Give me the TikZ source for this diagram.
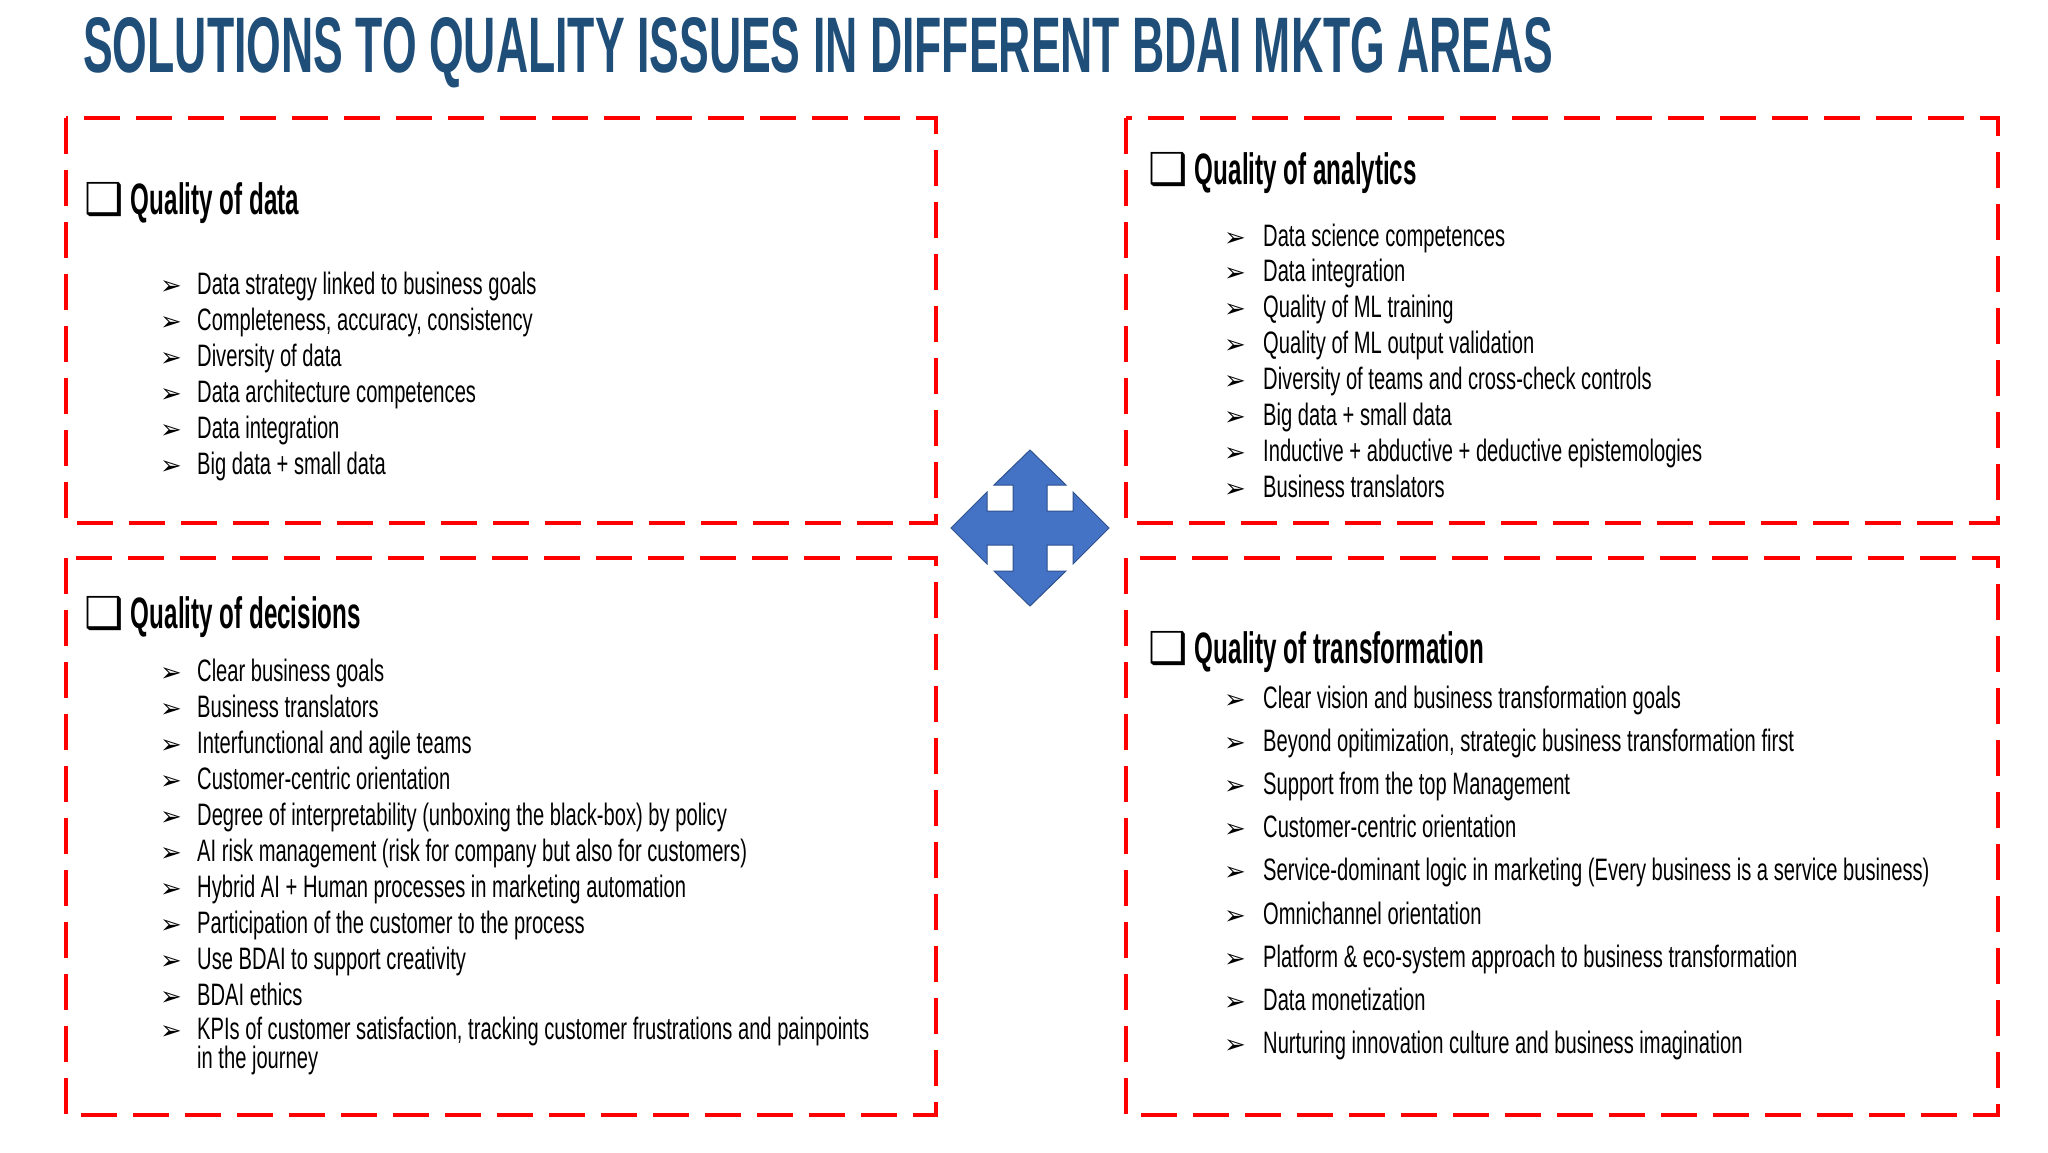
\documentclass[tikz,border=0pt]{standalone}
\usepackage{fontspec}
\setmainfont{Liberation Sans}
\newfontfamily\dv{DejaVu Sans}
\definecolor{ttl}{HTML}{1F4E79}
\definecolor{boxred}{HTML}{FF0000}
\definecolor{arrowfill}{HTML}{4472C4}
\definecolor{arrowline}{HTML}{2F528F}
\newcommand{\itm}[1]{\scalebox{0.65}[1]{#1}}
\newcommand{\hdr}[1]{{\dv\bfseries ❑}\,\scalebox{0.55}[1]{\bfseries #1}}
\begin{document}
\begin{tikzpicture}[x=1pt,y=-1pt,
  redbox/.style={draw=boxred,line width=4.5pt,dash pattern=on 36pt off 16pt},
  head/.style={anchor=base west,inner sep=0pt,font=\fontsize{44}{48}\selectfont},
  item/.style={anchor=base west,inner sep=0pt,font=\fontsize{31}{26}\selectfont,align=left},
  bul/.style={anchor=base west,inner sep=0pt,font=\dv\fontsize{26}{28}\selectfont}]
\useasboundingbox (0,0) rectangle (2048,1152);
\node[anchor=west,inner sep=0pt] (title) at (83,53) {\resizebox{1470pt}{55pt}{\color{ttl}\bfseries SOLUTIONS TO QUALITY ISSUES IN DIFFERENT BDAI MKTG AREAS}};
\draw[redbox] (66,118) rectangle (936,523);
\draw[redbox] (1126,118) rectangle (1998,523);
\draw[redbox] (66,558) rectangle (936,1115);
\draw[redbox] (1126,558) rectangle (1998,1115);
% arrow
\fill[arrowfill,draw=arrowline,line width=1pt,shift={(1030,528)}]
 (0,-78)--(36,-43)--(17,-43)--(17,-17)--(43,-17)--(43,-36)--(79,0)--(43,36)--(43,17)--(17,17)--(17,43)--(36,43)--(0,78)--(-36,43)--(-17,43)--(-17,17)--(-43,17)--(-43,36)--(-79,0)--(-43,-36)--(-43,-17)--(-17,-17)--(-17,-43)--(-36,-43)--cycle;
% headers
\node[head] (h1) at (84,214) {\hdr{Quality of data}};
\node[head] (h2) at (1148,184) {\hdr{Quality of analytics}};
\node[head] (h3) at (84,628) {\hdr{Quality of decisions}};
\node[head] (h4) at (1148,663) {\hdr{Quality of transformation}};
% data
\foreach \t [count=\i] in {Data strategy linked to business goals,{Completeness, accuracy,  consistency},Diversity of data,Data architecture competences,Data integration,Big data + small data}{
  \node[bul] (db\i) at (160,{294+36*(\i-1)}) {➢};
  \node[item] (dt\i) at (197,{294+36*(\i-1)}) {\itm{\t}};}
% analytics
\foreach \t [count=\i] in {Data science competences,Data integration,Quality of ML training,Quality of ML output validation,Diversity of teams and cross-check controls,Big data + small data,Inductive + abductive + deductive epistemologies,Business translators}{
  \node[bul] (ab\i) at (1224,{246+35.9*(\i-1)}) {➢};
  \node[item] (at\i) at (1263,{246+35.9*(\i-1)}) {\itm{\t}};}
% decisions
\foreach \t [count=\i] in {Clear business goals,Business translators,Interfunctional and agile teams,Customer-centric orientation,Degree of interpretability (unboxing the black-box) by policy,AI risk management (risk for company but also for customers),Hybrid AI + Human processes in marketing automation,Participation of the customer to the process,Use BDAI to support creativity,BDAI ethics}{
  \node[bul] (cb\i) at (160,{681+36*(\i-1)}) {➢};
  \node[item] (ct\i) at (197,{681+36*(\i-1)}) {\itm{\t}};}
\node[bul] (cb11) at (160,1039) {➢};
\node[item] (ct11) at (197,1039) {\itm{KPIs of customer satisfaction, tracking customer frustrations and painpoints}};
\node[item] (ct12) at (197,1068) {\itm{in the journey}};
% transformation
\foreach \t [count=\i] in {Clear vision and business transformation goals,{Beyond opitimization, strategic business transformation first},Support from the top Management,Customer-centric orientation,Service-dominant logic in marketing (Every business is a service business),Omnichannel orientation,Platform \& eco-system approach to business transformation,Data monetization,Nurturing innovation culture and business imagination}{
  \node[bul] (tb\i) at (1224,{708+43.2*(\i-1)}) {➢};
  \node[item] (tt\i) at (1263,{708+43.2*(\i-1)}) {\itm{\t}};}
\end{tikzpicture}
\end{document}
